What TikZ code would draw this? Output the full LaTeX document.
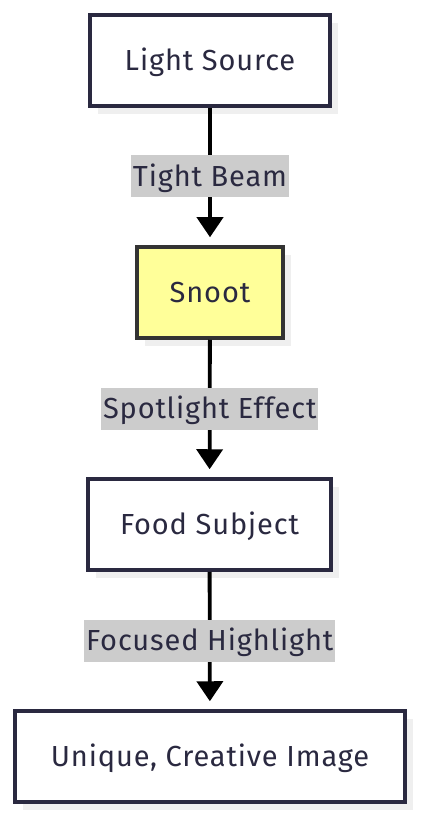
\documentclass[tikz,border=0pt]{standalone}
\usepackage{fontspec}
\setmainfont{Fira Sans}[LetterSpace=3]
\usetikzlibrary{arrows.meta,shadows}
\definecolor{inkc}{HTML}{2A2940}
\definecolor{snootc}{HTML}{FFFF99}
\definecolor{shadowc}{HTML}{EFEFEF}
\definecolor{labelc}{HTML}{CCCCCC}
\begin{document}
\begin{tikzpicture}[x=1pt,y=-1pt,
                    bnode/.style = {shape = rectangle,
                                    draw = inkc,
                                    fill = white,
                                    line width = 3.5pt,
                                    minimum height = 91pt,
                                    text = inkc,
                                    text height = 20pt,
                                    text depth = 0pt,
                                    font = \fontsize{29}{34}\selectfont,
                                    drop shadow = {shadow xshift = 8pt,
                                                   shadow yshift = -8pt,
                                                   fill = shadowc,
                                                   opacity = 1}},
                    lnode/.style = {fill = labelc,
                                    text = inkc,
                                    inner xsep = 2pt,
                                    inner ysep = 11pt,
                                    text height = 20pt,
                                    text depth = 0pt,
                                    font = \fontsize{29}{34}\selectfont},
                    flow/.style = {line width = 3.8pt,
                                   -{Triangle[width=26pt,length=20pt]},
                                   shorten > = 8pt}]
		\useasboundingbox (0,0) rectangle (420,818);
		\node[bnode, minimum width = 240pt] (src) at (210,60.5) {Light Source};
		\node[bnode, minimum width = 146pt, fill = snootc, draw = black!80] (snoot) at (210,292.5) {Snoot};
		\node[bnode, minimum width = 243pt] (food) at (209.5,524.5) {Food Subject};
		\node[bnode, minimum width = 390pt] (img) at (210,756.5) {Unique, Creative Image};
		\path[flow] (src) edge node[lnode] {Tight Beam} (snoot);
		\path[flow] (snoot) edge node[lnode] {Spotlight Effect} (food);
		\path[flow] (food) edge node[lnode] {Focused Highlight} (img);
	\end{tikzpicture}
\end{document}
